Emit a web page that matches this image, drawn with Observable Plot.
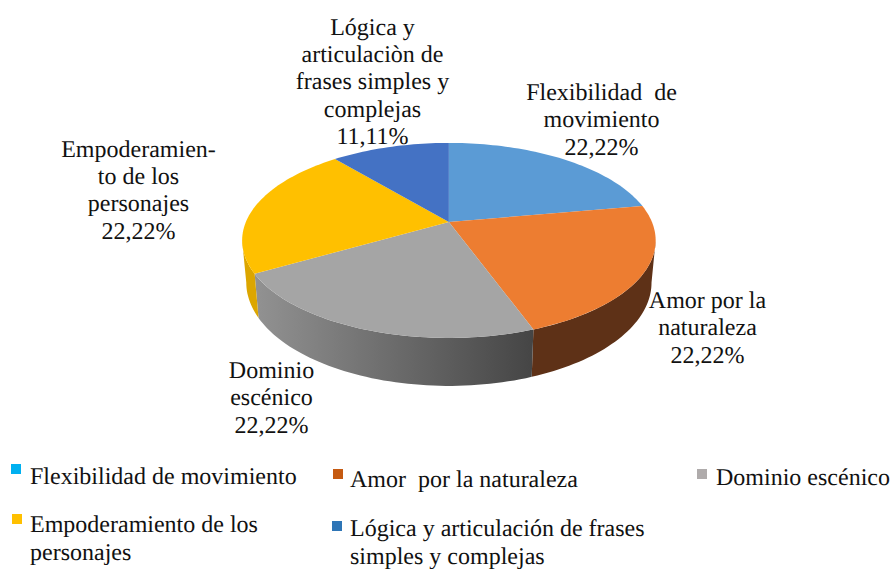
<!DOCTYPE html>
<html>
<head>
<meta charset="utf-8">
<script src="https://cdn.jsdelivr.net/npm/d3@7"></script>
<script src="https://cdn.jsdelivr.net/npm/@observablehq/plot@0.6"></script>
<style>
html,body{margin:0;padding:0;background:#fff}
#chart{position:relative;width:891px;height:569px;overflow:hidden;font-family:"Liberation Serif","Times New Roman",serif;text-rendering:geometricPrecision}
#chart svg{display:block}
#chart svg text{white-space:pre}
#legend{position:relative;height:119px;font-size:24px;line-height:27.5px;color:#111}
#legend .sw{position:absolute;width:10px;height:10px}
#legend .tx{position:absolute;white-space:pre}
</style>
</head>
<body>
<div id="chart"></div>
<script>
const categories = ["Flexibilidad de movimiento","Amor por la naturaleza","Dominio escénico","Empoderamiento de los personajes","Lógica y articulación de frases simples y complejas"];
const values = [22.22,22.22,22.22,22.22,11.11];
const sliceColors = ["#5B9BD5","#ED7D31","#A5A5A5","#FFC000","#4472C4"];
const sideFills = ["#5B9BD5","#5E3117","url(#greySide)","#DCA600","#4472C4"];
const labels = [
  "Flexibilidad  de\nmovimiento\n22,22%",
  "Amor por la\nnaturaleza\n22,22%",
  "Dominio\nescénico\n22,22%",
  "Empoderamien-\nto de los\npersonajes\n22,22%",
  "Lógica y\narticulaciòn de\nfrases simples y\ncomplejas\n11,11%"
];
const labelPlaces = [[601,118],[707,326],[271,396],[138,188.5],[372,80]];
const legendTexts = ["Flexibilidad de movimiento","Amor  por la naturaleza","Dominio escénico","Empoderamiento de los\npersonajes","Lógica y articulación de frases\nsimples y complejas"];
const legendColors = ["#00B0F0","#C55A11","#AFABAB","#FFC000","#2E75B6"];
const legendSwatches = [[11,14],[333,19],[697,19],[12,64],[332,71]];
const legendPlaces = [[30,14],[350,17],[716,15],[30,62],[350,66]];

// perspective of the tilted pie, in unit-disc coordinates
const k = 0.19;
const rad = d => d * Math.PI / 180;
const top_ = t => { const X = Math.sin(rad(t)), Y = Math.cos(rad(t)), w = 1 + k * Y; return [X / w, Y / w]; };
const low_ = t => { const [x, y] = top_(t); return [0.98 * x, 1.06 * y - 0.436]; };
const total = d3.sum(values);
let acc = 0;
const slices = values.map((v, i) => { const a0 = acc; acc += v; return {i, cat: categories[i], a0: a0 / total * 360, a1: acc / total * 360}; });
const arc = (a0, a1, f) => { const n = Math.max(2, Math.ceil((a1 - a0) / 1.5)); return d3.range(n + 1).map(j => f(a0 + (a1 - a0) * j / n)); };

const topPoints = slices.flatMap(s => [[0, 0], ...arc(s.a0, s.a1, top_)].map(([x, y]) => ({x, y, cat: s.cat})));
const tang = Math.acos(-k) * 180 / Math.PI;
const sidePoints = slices.flatMap(s => {
  const a0 = Math.max(s.a0, tang), a1 = Math.min(s.a1, 360 - tang);
  if (a1 <= a0) return [];
  return [...arc(a0, a1, top_), ...arc(a0, a1, low_).reverse()].map(([x, y]) => ({x, y, i: s.i}));
});
const sideGroups = d3.groups(sidePoints, d => d.i);

const defs = () => {
  const svgNS = "http://www.w3.org/2000/svg";
  const d = document.createElementNS(svgNS, "defs");
  d.innerHTML = '<linearGradient id="greySide" x1="0" x2="1" y1="0" y2="0"><stop offset="0" stop-color="#929292"/><stop offset="1" stop-color="#454545"/></linearGradient>';
  return d;
};

const plot = Plot.plot({
  width: 891, height: 450,
  margin: 0,
  style: {background: "transparent", fontFamily: '"Liberation Serif","Times New Roman",serif'},
  x: {domain: [-1, 1], range: [245.4, 651.4], axis: null},
  y: {domain: [-1, 1], range: [315.4, 127.4], axis: null},
  color: {domain: categories, range: sliceColors},
  marks: [
    defs,
    ...sideGroups.map(([i, pts]) => Plot.line(pts, {x: "x", y: "y", fill: sideFills[i], stroke: "none"})),
    Plot.line(topPoints, {x: "x", y: "y", z: "cat", fill: "cat", stroke: "none"}),
    ...labels.map((t, i) => Plot.text([t], {
      text: d => d, frameAnchor: "top-left", textAnchor: "middle", lineAnchor: "middle",
      dx: labelPlaces[i][0], dy: labelPlaces[i][1], fontSize: 24, lineHeight: 1.14, fill: "#111"
    }))
  ]
});
const chart = document.getElementById("chart");
chart.appendChild(plot);
const lg = document.createElement("div");
lg.id = "legend";
legendTexts.forEach((t, i) => {
  const s = document.createElement("div");
  s.className = "sw"; s.style.left = legendSwatches[i][0] + "px"; s.style.top = legendSwatches[i][1] + "px"; s.style.background = legendColors[i];
  const x = document.createElement("div");
  x.className = "tx"; x.style.left = legendPlaces[i][0] + "px"; x.style.top = legendPlaces[i][1] + "px"; x.textContent = t;
  lg.append(s, x);
});
chart.appendChild(lg);
</script>
</body>
</html>
